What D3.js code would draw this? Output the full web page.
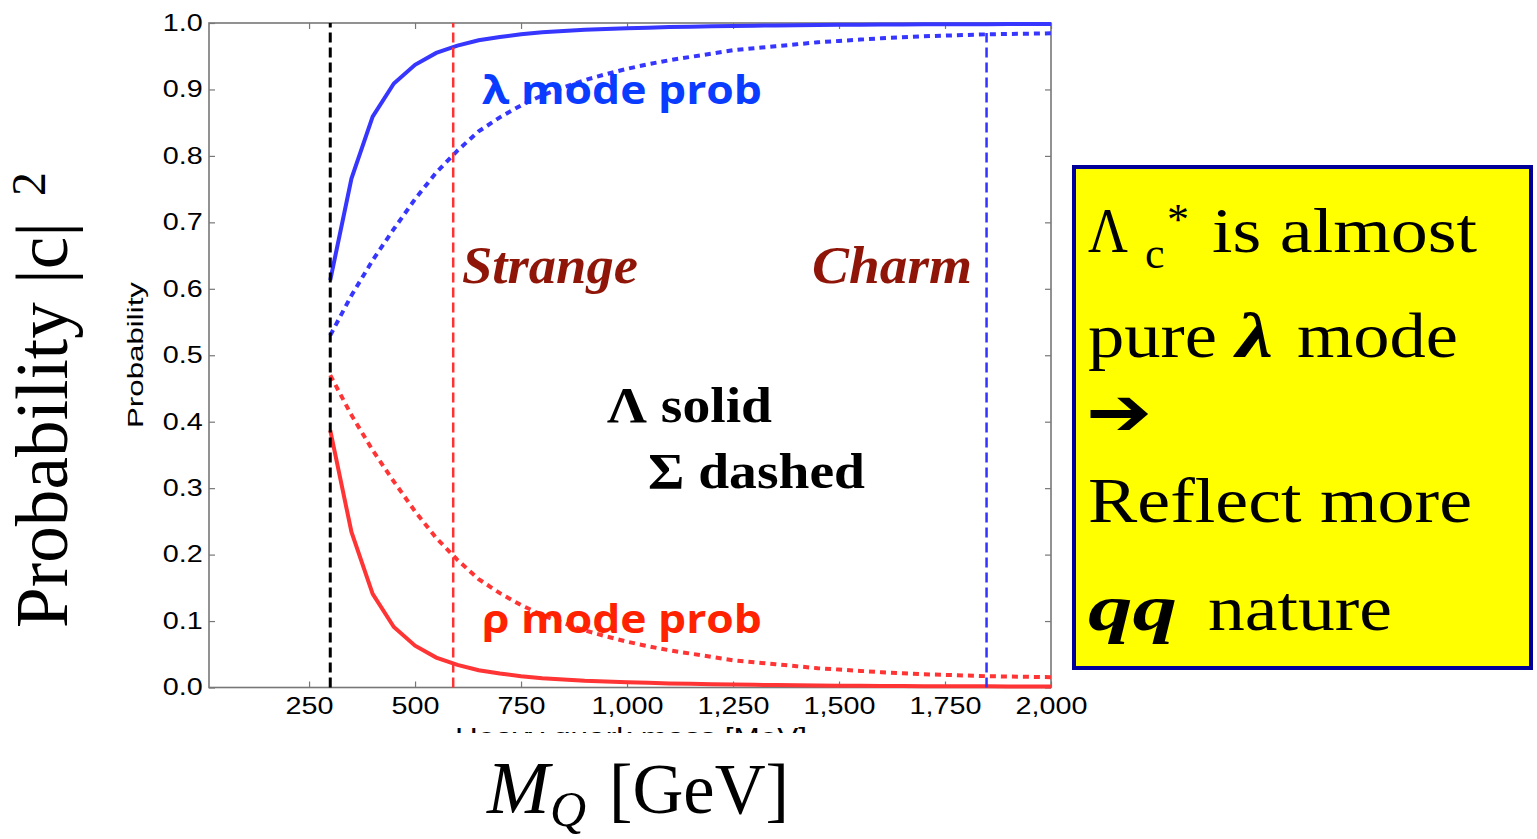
<!DOCTYPE html>
<html>
<head>
<meta charset="utf-8">
<script src="https://cdn.jsdelivr.net/npm/d3@7"></script>
<style>
body { margin: 0; background: #fff; }
svg { display: block; }
</style>
</head>
<body>
<svg id="vis" width="1537" height="839"></svg>
<script>
// heavy quark mass grid [MeV]
const masses = [300, 350, 400, 450, 500, 550, 600, 650, 700, 750, 800, 850, 900, 950, 1000,
    1050, 1100, 1150, 1200, 1250, 1300, 1350, 1400, 1450, 1500, 1550, 1600, 1650, 1700,
    1750, 1800, 1850, 1900, 1950, 2000];

// Lambda (solid) probabilities
const lambdaSolid = [0.613, 0.766, 0.859, 0.909, 0.937, 0.955, 0.966, 0.974, 0.979, 0.983,
    0.986, 0.988, 0.990, 0.991, 0.992, 0.993, 0.994, 0.9945, 0.995, 0.9955, 0.996, 0.9963,
    0.9966, 0.9969, 0.9972, 0.9974, 0.9976, 0.9978, 0.998, 0.9981, 0.9982, 0.9983, 0.9984,
    0.9985, 0.9986];
const rhoSolid = [0.387, 0.234, 0.141, 0.091, 0.063, 0.045, 0.034, 0.026, 0.021, 0.017,
    0.014, 0.012, 0.010, 0.009, 0.008, 0.007, 0.006, 0.0055, 0.005, 0.0045, 0.004, 0.0037,
    0.0034, 0.0031, 0.0028, 0.0026, 0.0024, 0.0022, 0.002, 0.0019, 0.0018, 0.0017, 0.0016,
    0.0015, 0.0014];

// Sigma (dashed) probabilities
const lambdaDashed = [0.530, 0.590, 0.643, 0.690, 0.735, 0.775, 0.808, 0.837, 0.858, 0.876,
    0.891, 0.903, 0.914, 0.923, 0.931, 0.938, 0.944, 0.949, 0.954, 0.959, 0.962, 0.965,
    0.968, 0.971, 0.973, 0.975, 0.977, 0.9785, 0.980, 0.981, 0.982, 0.983, 0.9835, 0.984,
    0.9845];
const rhoDashed = [0.470, 0.410, 0.357, 0.310, 0.265, 0.225, 0.192, 0.163, 0.142, 0.124,
    0.109, 0.097, 0.086, 0.077, 0.069, 0.062, 0.056, 0.051, 0.046, 0.041, 0.038, 0.035,
    0.032, 0.029, 0.027, 0.025, 0.023, 0.0215, 0.020, 0.019, 0.018, 0.017, 0.0165, 0.016,
    0.0155];

const xTicks = [250, 500, 750, 1000, 1250, 1500, 1750, 2000];
const yTicks = [0, 0.1, 0.2, 0.3, 0.4, 0.5, 0.6, 0.7, 0.8, 0.9, 1.0];

// vertical reference lines: light quark, strange, charm
const markerNames = ["light", "strange", "charm"];
const markerMasses = [300, 590, 1848];
const markerTops = [1.0, 1.0, 0.985];

function draw() {
    let margin = {top: 23, left: 209};
    let width = 842;
    let height = 664.5;

    let svg = d3.select("#vis");
    let g = svg.append("g").attr("transform", `translate(${margin.left}, ${margin.top})`);

    let x = d3.scaleLinear().domain([14, 2000]).range([0, width]);
    let y = d3.scaleLinear().domain([0, 1]).range([height, 0]);

    const axisGrey = "#777";
    const sans = "'Liberation Sans', Arial, Helvetica, sans-serif";
    const serif = "'Liberation Serif', 'Times New Roman', serif";

    // axes: ticks point inwards
    let xAxis = g.append("g")
        .attr("transform", `translate(0, ${height})`)
        .call(d3.axisBottom(x).tickValues(xTicks).tickFormat(d3.format(","))
            .tickSize(-6).tickSizeOuter(0).tickPadding(10));
    let yAxis = g.append("g")
        .call(d3.axisLeft(y).tickValues(yTicks).tickFormat(d3.format(".1f"))
            .tickSize(-6).tickSizeOuter(0).tickPadding(5));
    let topAxis = g.append("g")
        .call(d3.axisTop(x).tickValues(xTicks).tickFormat("").tickSize(-6).tickSizeOuter(0));
    let rightAxis = g.append("g")
        .attr("transform", `translate(${width}, 0)`)
        .call(d3.axisRight(y).tickValues(yTicks).tickFormat("").tickSize(-6).tickSizeOuter(0));

    [xAxis, yAxis, topAxis, rightAxis].forEach((a) => {
        a.select(".domain").remove();
        a.selectAll("line").attr("stroke", axisGrey).attr("stroke-width", 1.2);
        a.selectAll("text")
            .attr("font-size", 23)
            .attr("font-family", sans)
            .attr("fill", "#000")
            .attr("transform", "scale(1.25,1)");
    });

    g.append("rect")
        .attr("width", width)
        .attr("height", height)
        .attr("fill", "none")
        .attr("stroke", axisGrey)
        .attr("stroke-width", 1.6);

    // curves
    const blue = "#3636ff";
    const red = "#ff3434";
    let series = [
        {values: lambdaSolid, color: blue, dash: null},
        {values: rhoSolid, color: red, dash: null},
        {values: lambdaDashed, color: blue, dash: "6,5"},
        {values: rhoDashed, color: red, dash: "6,5"}
    ];
    let line = d3.line()
        .x((d, i) => x(masses[i]))
        .y((d) => y(d));

    g.selectAll(".curve")
        .data(series)
        .enter().append("path")
            .attr("class", "curve")
            .attr("d", (d) => line(d.values))
            .attr("fill", "none")
            .attr("stroke", (d) => d.color)
            .attr("stroke-width", 4)
            .attr("stroke-dasharray", (d) => d.dash);

    // vertical mass markers
    const markerColor = {light: "#000", strange: "#ff3333", charm: "#3333ff"};
    const markerWidth = {light: 3, strange: 2.5, charm: 2.5};
    g.selectAll(".marker")
        .data(markerNames)
        .enter().append("line")
            .attr("class", "marker")
            .attr("x1", (d, i) => x(markerMasses[i]))
            .attr("x2", (d, i) => x(markerMasses[i]))
            .attr("y1", y(0))
            .attr("y2", (d, i) => y(markerTops[i]))
            .attr("stroke", (d) => markerColor[d])
            .attr("stroke-width", (d) => markerWidth[d])
            .attr("stroke-dasharray", "10,5");

    // small y label from the plot
    svg.append("text")
        .attr("transform", "translate(143, 355) rotate(-90)")
        .attr("text-anchor", "middle")
        .attr("font-family", sans)
        .attr("font-size", 22)
        .attr("textLength", 146)
        .attr("lengthAdjust", "spacingAndGlyphs")
        .text("Probability");

    // original x label, mostly covered
    svg.append("clipPath").attr("id", "cut")
        .append("rect").attr("x", 400).attr("y", 700).attr("width", 500).attr("height", 33);
    svg.append("text")
        .attr("clip-path", "url(#cut)")
        .attr("x", 455).attr("y", 746)
        .attr("font-family", sans)
        .attr("font-size", 25)
        .attr("textLength", 352)
        .attr("lengthAdjust", "spacingAndGlyphs")
        .text("Heavy quark mass [MeV]");

    // annotations inside the plot
    let notes = svg.append("g");
    let note = (txt, px, py, len, size, family, weight, style, color) => {
        notes.append("text")
            .attr("x", px).attr("y", py)
            .attr("font-family", family)
            .attr("font-size", size)
            .attr("font-weight", weight)
            .attr("font-style", style)
            .attr("fill", color)
            .attr("textLength", len)
            .attr("lengthAdjust", "spacingAndGlyphs")
            .text(txt);
    };
    const opensans = "'Open Sans', 'Noto Sans', sans-serif";
    note("λ mode prob", 482, 104, 280, 40, opensans, 700, "normal", "#0a3cff");
    note("ρ mode prob", 482, 633, 280, 40, opensans, 700, "normal", "#ff2200");
    note("Strange", 462, 283, 176, 52, serif, 700, "italic", "#8e1508");
    note("Charm", 812, 283, 160, 52, serif, 700, "italic", "#8e1508");
    note("Λ solid", 607, 422, 165, 50, serif, 700, "normal", "#000");
    note("Σ dashed", 648, 488, 217, 50, serif, 700, "normal", "#000");

    // big axis titles
    let yt = svg.append("g").attr("transform", "translate(67, 628) rotate(-90)");
    yt.append("text")
        .attr("font-family", serif)
        .attr("font-size", 74)
        .attr("textLength", 406)
        .attr("lengthAdjust", "spacingAndGlyphs")
        .text("Probability |c|");
    yt.append("text")
        .attr("x", 432).attr("y", -22)
        .attr("font-family", serif)
        .attr("font-size", 48)
        .text("2");

    svg.append("text")
        .attr("x", 487).attr("y", 813)
        .attr("font-family", serif).attr("font-size", 75).attr("font-style", "italic")
        .text("M");
    svg.append("text")
        .attr("x", 550).attr("y", 826)
        .attr("font-family", serif).attr("font-size", 50).attr("font-style", "italic")
        .text("Q");
    svg.append("text")
        .attr("x", 609).attr("y", 813)
        .attr("font-family", serif).attr("font-size", 72)
        .attr("textLength", 180).attr("lengthAdjust", "spacingAndGlyphs")
        .text("[GeV]");

    // yellow comment box
    let box = svg.append("g");
    box.append("rect")
        .attr("x", 1074).attr("y", 167)
        .attr("width", 457).attr("height", 501)
        .attr("fill", "#ffff00")
        .attr("stroke", "#000099")
        .attr("stroke-width", 4);
    let boxText = (txt, px, py, size, len, weight, style, family) => {
        let t = box.append("text")
            .attr("x", px).attr("y", py)
            .attr("font-family", family || serif)
            .attr("font-size", size)
            .attr("font-weight", weight || "normal")
            .attr("font-style", style || "normal")
            .attr("fill", "#000")
            .text(txt);
        if (len) t.attr("textLength", len).attr("lengthAdjust", "spacingAndGlyphs");
    };
    boxText("Λ", 1088, 252, 63, 40);
    boxText("c", 1145, 268, 44);
    boxText("*", 1167, 234, 44);
    boxText("is almost", 1212, 252, 63, 265);
    boxText("pure", 1088, 357, 63, 129);
    boxText("λ", 1236, 357, 63, 37, 700, "italic");
    boxText("mode", 1297, 357, 63, 161);
    boxText("➔", 1086, 435, 68, 66, 700, "normal", "'DejaVu Sans', sans-serif");
    boxText("Reflect more", 1088, 522, 63, 384);
    boxText("qq", 1088, 630, 66, 89, 700, "italic");
    boxText("nature", 1208, 630, 63, 184);
}

draw();
</script>
</body>
</html>
